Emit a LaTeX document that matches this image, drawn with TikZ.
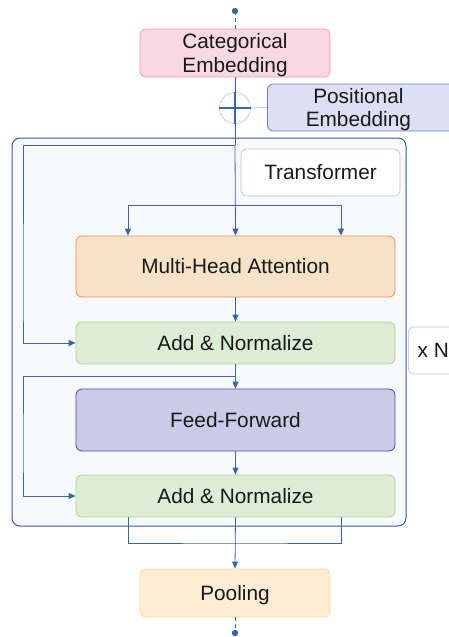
\documentclass[tikz,border=0pt]{standalone}
\usepackage{fontspec}
\setmainfont{Liberation Sans}
\usetikzlibrary{arrows.meta}
\definecolor{conn}{HTML}{3A66A8}
\definecolor{catfill}{HTML}{F8D8E3}
\definecolor{catdraw}{HTML}{EE9AB4}
\definecolor{posfill}{HTML}{DCE0F4}
\definecolor{posdraw}{HTML}{6B80C9}
\definecolor{outfill}{HTML}{F8F9FC}
\definecolor{outdraw}{HTML}{2E5C9E}
\definecolor{mhafill}{HTML}{F6E2C6}
\definecolor{mhadraw}{HTML}{F28B5C}
\definecolor{anfill}{HTML}{DDEDD5}
\definecolor{andraw}{HTML}{A8D48E}
\definecolor{fffill}{HTML}{CBCAE7}
\definecolor{ffdraw}{HTML}{5549A8}
\definecolor{poolfill}{HTML}{FEEDD5}
\definecolor{pooldraw}{HTML}{FBD89C}
\definecolor{lbldraw}{HTML}{B4C2DC}
\newcommand\myup{\rule{0pt}{19pt}}
\tikzset{
  blk/.style={draw, rounded corners=6pt, line width=0.8pt, inner sep=0pt, font=\fontsize{20.8}{23.5}\selectfont, align=center, text=black!90},
  cn/.style={draw=conn, line width=0.8pt},
  arr/.style={cn, -{Triangle[length=7pt,width=6pt]}},
}
\begin{document}
\begin{tikzpicture}[x=1pt,y=-1pt]
\useasboundingbox (0,0) rectangle (448,637);
% outer transformer box
\node[draw=outdraw, fill=outfill, rounded corners=8pt, line width=1pt, minimum width=394pt, minimum height=388pt, inner sep=0pt] (outer) at (209,332) {};
% blocks
\node[blk, fill=catfill, draw=catdraw, minimum width=190pt, minimum height=48pt] (cat) at (235,53) {\myup Categorical\\Embedding};
\node[blk, fill=posfill, draw=posdraw, minimum width=190pt, minimum height=47pt, anchor=west] (pos) at (267,107.5) {\hspace*{-8pt}\myup Positional\\\hspace*{-8pt}Embedding};
\node[blk, fill=white, draw=lbldraw, minimum width=159pt, minimum height=47pt, line width=0.6pt] (lbl) at (320.5,172.5) {Transformer};
\node[blk, fill=mhafill, draw=mhadraw, minimum width=319pt, minimum height=61pt] (mha) at (235.5,266.5) {Multi-Head Attention};
\node[blk, fill=anfill, draw=andraw, minimum width=319pt, minimum height=42pt] (an1) at (235.5,343) {Add \& Normalize};
\node[blk, fill=white, draw=lbldraw, minimum width=60pt, minimum height=47pt, line width=0.6pt, anchor=west] (xn) at (408,350.5) {\hspace*{-10pt}x N};
\node[blk, fill=fffill, draw=ffdraw, minimum width=319pt, minimum height=62pt] (ff) at (235.5,420) {Feed-Forward};
\node[blk, fill=anfill, draw=andraw, minimum width=319pt, minimum height=42pt] (an2) at (235.5,496) {Add \& Normalize};
\node[blk, fill=poolfill, draw=pooldraw, minimum width=190pt, minimum height=48pt] (pool) at (235,593) {\myup Pooling};
% plus
\node[circle, draw=lbldraw, line width=0.6pt, minimum size=31pt, inner sep=0pt] (plus) at (235,108) {};
\draw[draw=lbldraw, line width=0.8pt] (plus.east) -- (pos.west);
\draw[conn, line width=1.6pt] (plus.west) -- (plus.east);
\draw[conn, line width=1.6pt] (plus.north) -- (plus.south);
% top / bottom dots
\fill[conn] (235,11) circle (3.2pt) coordinate (topdot);
\fill[conn] (235,633) circle (3.2pt) coordinate (botdot);
\draw[cn, dashed, dash pattern=on 4pt off 3pt] (topdot) -- (cat.north);
\draw[cn, dashed, dash pattern=on 4pt off 3pt] (pool.south) -- (botdot);
% main line
\coordinate (r1) at (235,145);
\coordinate (b1) at (235,205);
\draw[cn] (cat.south) -- (plus.north);
\draw[cn] (plus.south) -- (r1);
\draw[arr] (r1) -- (mha.north);
\draw[arr] (b1) -| ([xshift=-107.5pt]mha.north);
\draw[arr] (b1) -| ([xshift=105.5pt]mha.north);
\draw[arr] (r1) -| (23,300) |- (an1.west);
\draw[arr] (mha.south) -- (an1.north);
\coordinate (r2) at (235,376);
\draw[arr] (an1.south) -- (ff.north);
\draw[arr] (r2) -| (23,450) |- (an2.west);
\draw[arr] (ff.south) -- (an2.north);
\draw[arr] (an2.south) -- (pool.north);
\draw[cn] ([xshift=-107.5pt]an2.south) |- (235,543) -| ([xshift=105.5pt]an2.south);
\end{tikzpicture}
\end{document}
